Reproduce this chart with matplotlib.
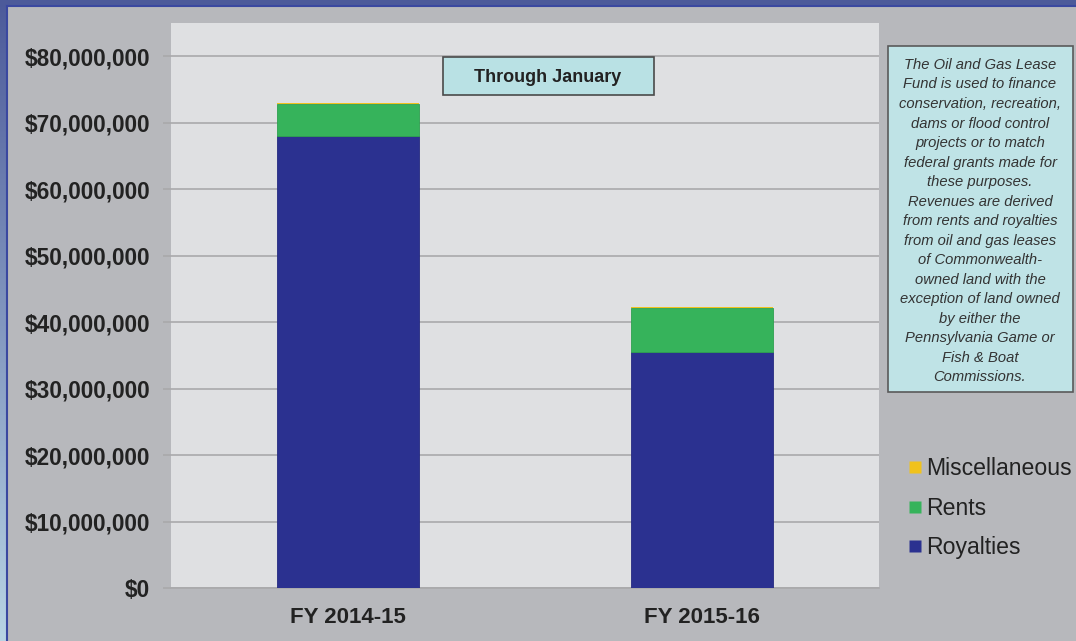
import numpy as np
import matplotlib
matplotlib.use("Agg")
import matplotlib.pyplot as plt
from matplotlib.patches import Rectangle
from matplotlib.lines import Line2D
from matplotlib.ticker import FuncFormatter

plt.rcParams["font.family"] = ["Liberation Sans", "DejaVu Sans"]

years = ["FY 2014-15", "FY 2015-16"]
royalties = [68.0e6, 35.5e6]
rents = [4.8e6, 6.6e6]
misc = [0.15e6, 0.15e6]
yticks = [0, 10e6, 20e6, 30e6, 40e6, 50e6, 60e6, 70e6, 80e6]

note = ("The Oil and Gas Lease\nFund is used to finance\nconservation, recreation,\n"
        "dams or flood control\nprojects or to match\nfederal grants made for\n"
        "these purposes.\nRevenues are derived\nfrom rents and royalties\n"
        "from oil and gas leases\nof Commonwealth-\nowned land with the\n"
        "exception of land owned\nby either the\nPennsylvania Game or\n"
        "Fish & Boat\nCommissions.")

c_roy = "#2b3190"
c_rent = "#36b35b"
c_misc = "#f0c21c"

W, H = 1076, 641
fig = plt.figure(figsize=(W / 100, H / 100), dpi=100)

# blue frame with gradient, then gray panel
bg = fig.add_axes([0, 0, 1, 1], zorder=-10)
grad = np.linspace(0, 1, 256).reshape(-1, 1)
top_c = np.array([0x4c, 0x5a, 0x9a]) / 255
bot_c = np.array([0xb8, 0xd4, 0xe4]) / 255
img = top_c + (bot_c - top_c) * grad[..., None]
img = np.repeat(img, 2, axis=1)
bg.imshow(img, aspect="auto", extent=[0, 1, 0, 1], origin="upper")
bg.add_patch(Rectangle((8 / W, 0), 1 - 8 / W, 1 - 7 / H, facecolor="#b7b8bc",
                       edgecolor="none"))
bg.plot([7 / W, 7 / W], [0, 1 - 6 / H], color="#3a48a0", lw=1.5)
bg.plot([7 / W, 1], [1 - 6 / H, 1 - 6 / H], color="#3a48a0", lw=1.5)
bg.set_xlim(0, 1)
bg.set_ylim(0, 1)
bg.axis("off")

ax = fig.add_axes([171 / W, 53 / H, 708 / W, 565 / H])
ax.set_facecolor("#dfe0e2")

x = np.arange(len(years))
w = 0.4
ax.bar(x, royalties, w, color=c_roy, edgecolor="#252a80", lw=0.6, zorder=3, label="Royalties")
ax.bar(x, rents, w, bottom=royalties, color=c_rent, edgecolor="#2ea050", lw=0.6, zorder=3, label="Rents")
ax.bar(x, misc, w, bottom=np.add(royalties, rents), color=c_misc, edgecolor="none", zorder=3,
       label="Miscellaneous")

ax.set_xlim(-0.5, 1.5)
ax.set_ylim(0, 85e6)
ax.set_yticks(yticks)
ax.yaxis.set_major_formatter(FuncFormatter(lambda v, p: f"${v:,.0f}"))
ax.set_xticks(x)
ax.set_xticklabels(years)
ax.grid(axis="y", color="#a9a9ab", lw=1.2, zorder=0)
for s in ["top", "right", "left"]:
    ax.spines[s].set_visible(False)
ax.spines["bottom"].set_color("#a9a9ab")
ax.spines["bottom"].set_linewidth(1.2)
ax.tick_params(axis="y", length=6, color="#a9a9ab", width=1.2, pad=9,
               labelsize=16.3, labelcolor="#222222")
ax.tick_params(axis="x", length=0, pad=14, labelsize=16, labelcolor="#222222")
for lab in ax.get_xticklabels() + ax.get_yticklabels():
    lab.set_fontweight("bold")

# "Through January" box
fig.patches.append(Rectangle((443 / W, 1 - 95 / H), 211 / W, 38 / H, transform=fig.transFigure,
                             facecolor="#b9e1e4", edgecolor="#4a4a4a", lw=1.2, zorder=5))
fig.text(548 / W, 1 - 77 / H, "Through January", ha="center", va="center", fontsize=13,
         fontweight="bold", color="#222222", zorder=6)

# note box
fig.patches.append(Rectangle((888 / W, 1 - 392 / H), 185 / W, 346 / H, transform=fig.transFigure,
                             facecolor="#bfe3e6", edgecolor="#5a5a5a", lw=1.2, zorder=5))
fig.text(980 / W, 1 - 221 / H, note, ha="center", va="center", fontsize=10.6,
         style="italic", color="#333333", linespacing=1.5, zorder=6)

# legend
handles = [Line2D([], [], marker="s", ls="none", markersize=9, color=c, markeredgecolor="none")
           for c in [c_misc, c_rent, c_roy]]
fig.legend(handles, ["Miscellaneous", "Rents", "Royalties"], loc="upper left",
           bbox_to_anchor=(894 / W, 1 - 448 / H), frameon=False, fontsize=16.6,
           handletextpad=0.0, labelspacing=0.71, handlelength=1.0, borderaxespad=0,
           labelcolor="#222222")

fig.savefig("out.png", dpi=100)
